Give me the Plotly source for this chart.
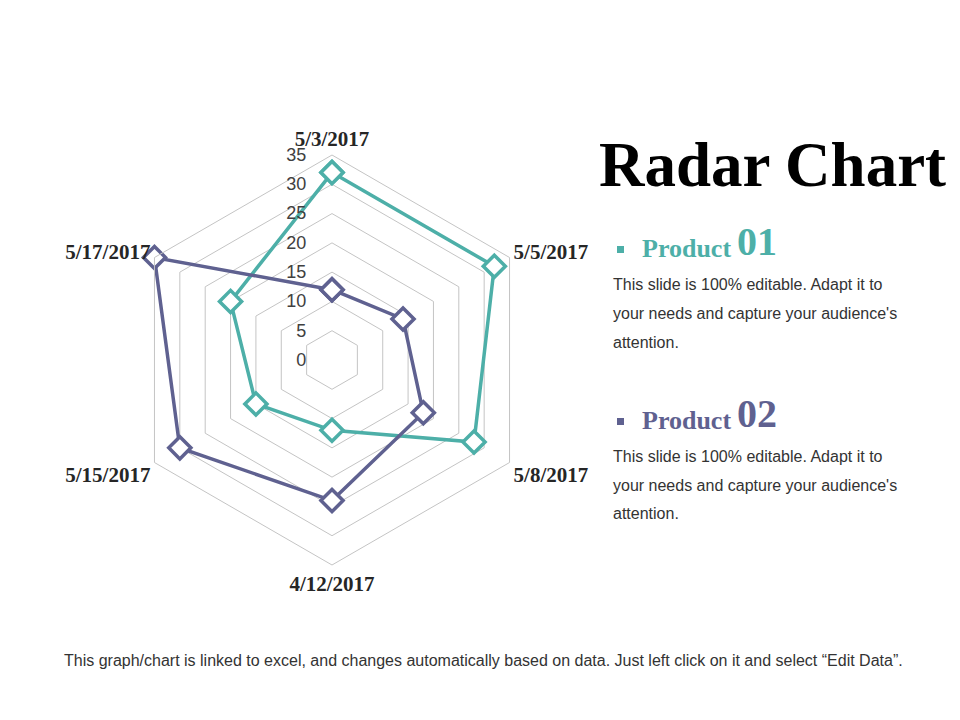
import plotly.graph_objects as go

# chart data
categories = ["5/3/2017", "5/5/2017", "5/8/2017", "4/12/2017", "5/15/2017", "5/17/2017"]
product_01 = [32, 32, 28, 12, 15, 20]
product_02 = [12, 14, 18, 24, 30, 35]
radial_ticks = [0, 5, 10, 15, 20, 25, 30, 35]

teal = "#4DAFA8"
purple = "#5F6190"
W, H = 960, 720
OFF = 8  # page body margin


def px(x):
    return (x - OFF) / W


def py(y):
    return 1 - (y - OFF) / H


fig = go.Figure()

for name, vals, col in [("Product 01", product_01, teal), ("Product 02", product_02, purple)]:
    fig.add_trace(go.Scatterpolar(
        r=vals + vals[:1],
        theta=categories + categories[:1],
        mode="lines+markers",
        name=name,
        line=dict(color=col, width=3.5),
        marker=dict(symbol="diamond", size=17, color="white",
                    line=dict(color=col, width=3.5)),
    ))

# polar area: centre at (332, 360) px, radius 205 px
cx, cy, rad = 332, 360, 205
fig.update_layout(
    width=W, height=H,
    margin=dict(l=0, r=0, t=0, b=0),
    paper_bgcolor="white",
    showlegend=False,
    polar=dict(
        domain=dict(x=[px(cx - rad), px(cx + rad)], y=[py(cy + rad), py(cy - rad)]),
        bgcolor="white",
        gridshape="linear",
        radialaxis=dict(
            range=[0, 35], tickvals=radial_ticks, angle=90, tickangle=90,
            showline=False, ticks="outside", ticklen=19, tickcolor="rgba(0,0,0,0)",
            gridcolor="#C4C4C4", gridwidth=1,
            tickfont=dict(family="Liberation Sans, Arial", size=18, color="#404040"),
            side="counterclockwise",
        ),
        angularaxis=dict(
            rotation=90, direction="clockwise",
            showgrid=False, showline=True, linecolor="#C4C4C4", linewidth=1,
            ticks="",
            tickfont=dict(family="Liberation Serif, Times New Roman", size=21,
                          color="#262626", weight="bold"),
        ),
    ),
)

serif = "Liberation Serif, Times New Roman"
sans = "Liberation Sans, Arial"

# title
fig.add_annotation(x=px(597), y=py(165), xref="paper", yref="paper", xanchor="left", yanchor="middle",
                   text="<b>Radar Chart</b>", showarrow=False,
                   font=dict(family=serif, size=63, color="black"))

body = ["This slide is 100% editable. Adapt it to",
        "your needs and capture your audience's",
        "attention."]

for head_y, num, col in [(248, "01", teal), (420, "02", purple)]:
    fig.add_shape(type="rect", xref="paper", yref="paper",
                  x0=px(617), x1=px(624), y0=py(head_y - 2), y1=py(head_y + 5),
                  fillcolor=col, line=dict(width=0))
    fig.add_annotation(x=px(640), y=py(head_y + 17), xref="paper", yref="paper",
                       xanchor="left", yanchor="bottom", text="<b>Product</b>", showarrow=False,
                       font=dict(family=serif, size=26, color=col))
    fig.add_annotation(x=px(735), y=py(head_y + 18), xref="paper", yref="paper",
                       xanchor="left", yanchor="bottom", text="<b>" + num + "</b>", showarrow=False,
                       font=dict(family=serif, size=40, color=col))
    for i, line in enumerate(body):
        fig.add_annotation(x=px(611), y=py(head_y + 36 + i * 29), xref="paper", yref="paper",
                           xanchor="left", yanchor="middle", text=line, showarrow=False,
                           font=dict(family=sans, size=16, color="#333333"))

fig.add_annotation(x=px(483), y=py(660), xref="paper", yref="paper", xanchor="center", yanchor="middle",
                   text="This graph/chart is linked to excel, and changes automatically based on data. "
                        "Just left click on it and select \u201cEdit Data\u201d.",
                   showarrow=False, font=dict(family=sans, size=16, color="#333333"))

fig.write_html("out.html")
